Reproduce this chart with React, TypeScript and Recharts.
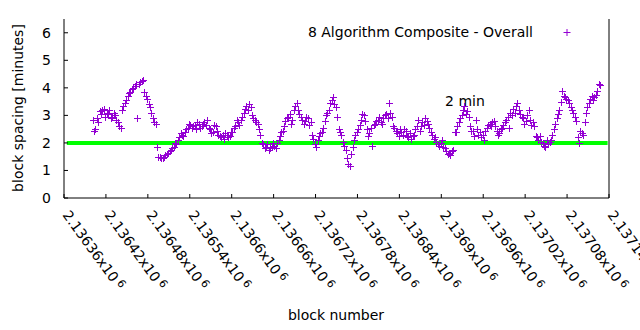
import { Customized, ReferenceLine, Scatter, ScatterChart, XAxis, YAxis } from "recharts";

const xTicks = [
  2136360, 2136420, 2136480, 2136540, 2136600, 2136660, 2136720,
  2136780, 2136840, 2136900, 2136960, 2137020, 2137080, 2137140,
];
const yTicks = [0, 1, 2, 3, 4, 5, 6];

const seriesName = "8 Algorithm Composite - Overall";
const targetMinutes = 2;
const targetStart = 2136364;
const targetEnd = 2137138;

// readings every 4 blocks; the second list sits 2 blocks after the first
const firstBlock = 2136401;
const blockStep = 4;
const spacingA = [
  2.85, 2.5, 2.75, 3.05, 3.25, 3.1, 3.2, 2.95, 3.0, 2.75,
  2.55, 3.35, 3.55, 3.8, 3.95, 4.05, 2.9, 4.2, 4.3, 3.7,
  3.4, 3.1, 2.75, 1.85, 1.5, 1.45, 1.55, 1.65, 1.75, 1.85,
  1.95, 2.2, 2.3, 2.4, 2.55, 2.65, 2.6, 2.5, 2.7, 2.6,
  2.75, 2.85, 2.5, 2.4, 2.6, 2.3, 2.2, 2.15, 2.3, 2.25,
  2.4, 2.6, 2.75, 2.85, 3.1, 3.35, 3.4, 3.0, 2.85, 2.7,
  2.3, 1.95, 1.85, 1.75, 1.85, 1.9, 2.0, 2.25, 2.45, 2.8,
  2.95, 2.7, 3.2, 3.45, 3.05, 2.85, 2.8, 2.9, 2.75, 2.15,
  1.85, 2.25, 2.4, 2.8, 3.1, 3.45, 3.65, 3.3, 2.5, 2.3,
  1.9, 1.45, 1.15, 1.85, 2.3, 2.5, 2.85, 3.0, 2.5, 2.35,
  1.9, 2.7, 2.85, 2.75, 2.9, 3.05, 3.45, 2.95, 2.55, 2.35,
  2.5, 2.3, 2.45, 2.2, 2.15, 2.3, 2.6, 2.45, 2.75, 2.9,
  2.7, 2.4, 2.15, 2.05, 1.9, 2.1, 1.8, 1.6, 1.55, 1.75,
  2.4, 2.75, 3.0, 3.35, 3.15, 2.6, 2.45, 2.85, 2.3, 2.2,
  2.1, 2.55, 2.7, 2.75, 2.6, 2.3, 2.5, 2.65, 2.85, 2.55,
  3.0, 3.1, 3.45, 3.05, 2.9, 2.8, 3.2, 2.65, 2.6, 2.2,
  2.25, 2.0, 1.85, 1.95, 2.1, 2.5, 2.9, 3.2, 3.9, 3.65,
  3.55, 3.3, 3.1, 2.8, 2.0, 2.35, 2.75, 3.3, 3.6, 3.55,
  3.75, 4.15,
];
const spacingB = [
  2.45, 2.9, 3.15, 3.2, 2.95, 3.05, 2.9, 3.1, 2.85, 2.6,
  3.2, 3.45, 3.7, 3.85, 4.0, 4.15, 4.15, 4.25, 3.85, 3.6,
  3.3, 2.9, 2.7, 1.5, 1.45, 1.5, 1.6, 1.7, 1.8, 2.0,
  2.1, 2.35, 2.25, 2.5, 2.7, 2.55, 2.65, 2.75, 2.55, 2.7,
  2.65, 2.55, 2.35, 2.65, 2.45, 2.25, 2.3, 2.35, 2.2, 2.4,
  2.55, 2.85, 2.65, 2.95, 3.25, 3.2, 3.3, 2.9, 2.75, 2.5,
  2.0, 1.8, 1.95, 1.8, 2.0, 1.8, 2.1, 2.4, 2.6, 2.9,
  3.05, 2.85, 3.35, 3.2, 2.95, 2.7, 2.95, 2.65, 2.3, 1.95,
  2.1, 2.35, 2.55, 3.0, 3.2, 3.55, 3.4, 2.95, 2.4, 2.05,
  1.75, 1.25, 1.6, 2.1, 2.4, 2.65, 3.05, 2.8, 2.25, 2.55,
  2.65, 2.8, 2.95, 2.7, 3.0, 2.9, 3.1, 2.6, 2.45, 2.25,
  2.4, 2.5, 2.25, 2.35, 2.25, 2.5, 2.85, 2.6, 2.65, 2.8,
  2.55, 2.3, 2.2, 1.95, 2.0, 1.85, 1.7, 1.65, 1.7, 2.4,
  2.6, 2.9, 3.2, 3.05, 2.95, 2.45, 2.25, 2.5, 2.4, 2.3,
  2.45, 2.65, 2.6, 2.8, 2.45, 2.35, 2.55, 2.75, 2.95, 3.1,
  3.25, 3.35, 3.2, 2.95, 2.7, 3.0, 2.85, 2.75, 2.25, 2.1,
  2.05, 1.9, 2.1, 2.05, 2.3, 2.7, 3.05, 3.5, 3.7, 3.6,
  3.45, 3.2, 2.95, 2.2, 2.45, 2.3, 3.1, 3.45, 3.7, 3.65,
  3.9, 4.1,
];

const data = [
  ...spacingA.map((v, i) => ({ block: firstBlock + i * blockStep, spacing: v })),
  ...spacingB.map((v, i) => ({ block: firstBlock + 2 + i * blockStep, spacing: v })),
];

const purple = "#9400d3";
const font = { fontFamily: "DejaVu Sans", fontSize: 14, fill: "#000" };

function Plus({ cx, cy }: any) {
  const x = Math.round(cx) + 0.5;
  const y = Math.round(cy) + 0.5;
  return (
    <path d={`M${x - 3.5},${y}h7M${x},${y - 3.5}v7`} stroke={purple} strokeWidth={1} fill="none" />
  );
}

function BlockTick({ x, y, payload }: any) {
  const label = String(+(payload.value / 1e6).toFixed(5));
  return (
    <g transform={`translate(${x - 2},${y}) rotate(54)`}>
      <text x={0} y={0} {...font}>
        {label}x10
        <tspan dx={3} dy={-4} fontSize={11}>
          6
        </tspan>
      </text>
    </g>
  );
}

const NoTick = () => null;

function Labels() {
  return (
    <g>
      <text x={533} y={37} textAnchor="end" {...font}>
        {seriesName}
      </text>
      <path d="M563.5,32.5h7M567,29v7" stroke={purple} strokeWidth={1} />
      <text x={465} y={106} textAnchor="middle" {...font}>
        {targetMinutes} min
      </text>
      <text x={23} y={108} textAnchor="middle" transform="rotate(-90 23 108)" {...font}>
        block spacing [minutes]
      </text>
      <text x={336} y={320} textAnchor="middle" {...font}>
        block number
      </text>
    </g>
  );
}

export default function App() {
  return (
    <div style={{ position: "absolute", left: 0, top: 0, background: "#fff" }}>
      <ScatterChart width={640} height={330} margin={{ top: 19, right: 0, bottom: 0, left: 0 }}>
        <XAxis
          dataKey="block"
          type="number"
          domain={[xTicks[0], xTicks[xTicks.length - 1]]}
          ticks={xTicks}
          interval={0}
          height={132}
          stroke="#000"
          tickSize={-4}
          tickMargin={21}
          tick={<BlockTick />}
        />
        <XAxis
          xAxisId="top"
          orientation="top"
          type="number"
          domain={[xTicks[0], xTicks[xTicks.length - 1]]}
          ticks={xTicks}
          interval={0}
          height={0}
          stroke="#000"
          tickSize={-4}
          tick={NoTick}
        />
        <YAxis
          dataKey="spacing"
          type="number"
          domain={[0, 6.5]}
          ticks={yTicks}
          interval={0}
          width={64}
          stroke="#000"
          tickSize={-4}
          tickMargin={17}
          tick={{ ...font }}
        />
        <YAxis
          yAxisId="right"
          orientation="right"
          type="number"
          domain={[0, 6.5]}
          ticks={yTicks}
          interval={0}
          width={31}
          stroke="#000"
          tickSize={-4}
          tick={NoTick}
        />
        <Scatter data={data} shape={<Plus />} isAnimationActive={false} />
        <ReferenceLine
          segment={[
            { x: targetStart, y: targetMinutes },
            { x: targetEnd, y: targetMinutes },
          ]}
          stroke="#00ff00"
          strokeWidth={4}
        />
        <Customized component={Labels} />
      </ScatterChart>
    </div>
  );
}
